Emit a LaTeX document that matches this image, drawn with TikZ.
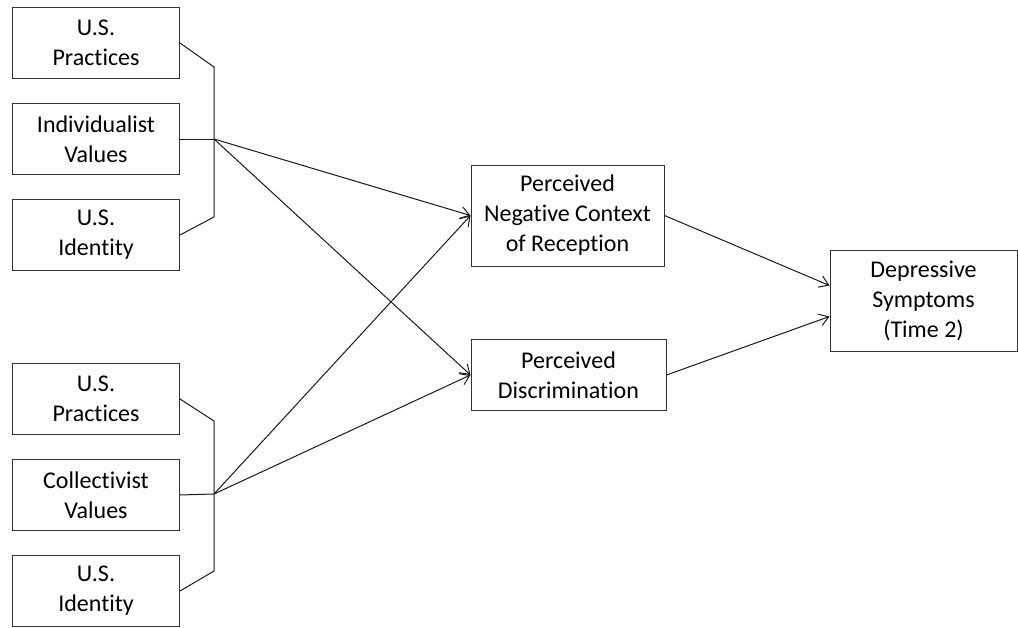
\documentclass[tikz,border=0pt]{standalone}
\usepackage{fontspec}
\setmainfont{Carlito}[Ligatures=NoCommon]
\usetikzlibrary{positioning,arrows.meta}

\begin{document}
\begin{tikzpicture}[x=1pt,y=-1pt,node distance=24pt, every node/.style={font=\fontsize{24}{30}\selectfont}]
    \tikzset{varbox/.style={draw=black!80,line width=1pt,align=center,minimum width=167pt,minimum height=71pt,inner sep=2pt},
      medbox/.style={varbox,minimum width=193pt,minimum height=101pt},
      path/.style={-{Straight Barb[length=9pt,width=12pt]},line width=1pt,black!90}}
    \useasboundingbox (0,0) rectangle (1018,627);
    \node[varbox] (usprac1) at (96,43) {U.S.\\Practices};
    \node[varbox,below=of usprac1] (indval) {Individualist\\Values};
    \node[varbox,below=of indval] (usid1) {U.S.\\Identity};
    \node[varbox,below=92pt of usid1] (usprac2) {U.S.\\Practices};
    \node[varbox,below=of usprac2] (colval) {Collectivist\\Values};
    \node[varbox,below=of colval] (usid2) {U.S.\\Identity};
    \node[medbox] (negctx) at (567.5,215.5) {Perceived\\Negative Context\\of Reception};
    \node[varbox,minimum width=195pt] (discrim) at (568.5,375) {Perceived\\Discrimination};
    \node[medbox,minimum width=187pt] (depress) at (923.5,300.5) {Depressive\\Symptoms\\(Time 2)};
    \coordinate (top1) at (214,67);
    \coordinate (j1) at (214,139);
    \coordinate (bot1) at (214,217);
    \coordinate (top2) at (214,421);
    \coordinate (j2) at (214,494);
    \coordinate (bot2) at (214,571);
    \draw[line width=1pt,black!90] (usprac1.east) -- (top1) -- (bot1) -- (usid1.east);
    \draw[line width=1pt,black!90] (indval.east) -- (j1);
    \draw[line width=1pt,black!90] (usprac2.east) -- (top2) -- (bot2) -- (usid2.east);
    \draw[line width=1pt,black!90] (colval.east) -- (j2);
    \draw[path] (j1) -- (negctx.west);
    \draw[path] (j1) -- (discrim.west);
    \draw[path] (j2) -- (negctx.west);
    \draw[path] (j2) -- (discrim.west);
    \draw[path] (negctx.east) -- ([yshift=15pt]depress.west);
    \draw[path] (discrim.east) -- ([yshift=-16pt]depress.west);
  \end{tikzpicture}
\end{document}
